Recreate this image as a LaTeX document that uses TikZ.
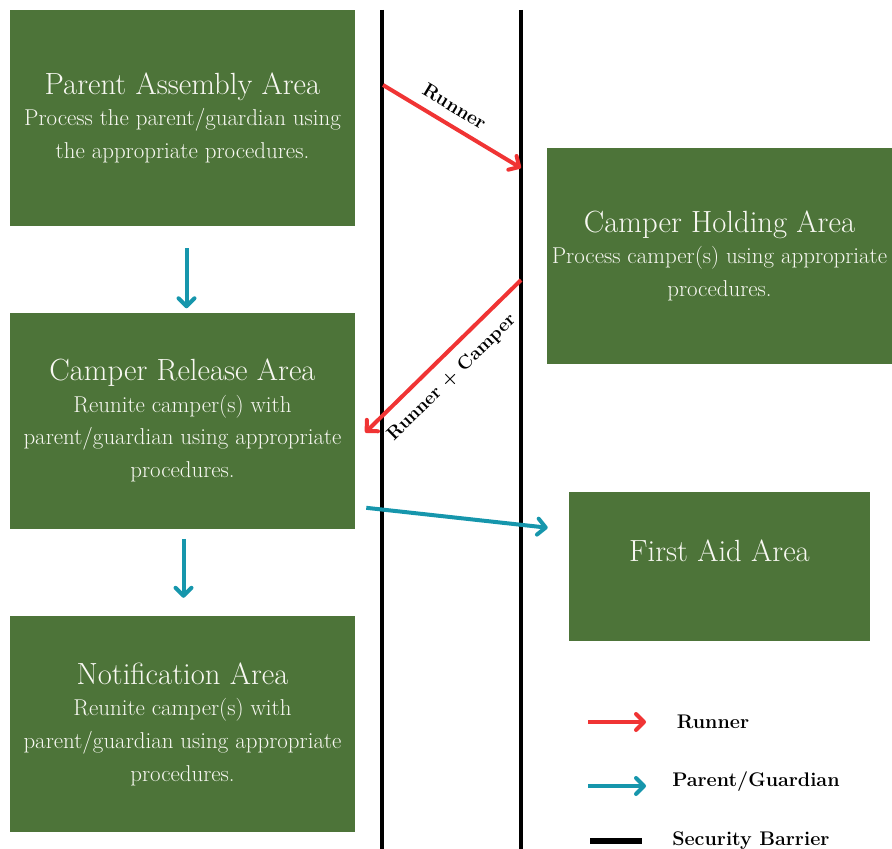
\documentclass[tikz,border=0pt]{standalone}
\usepackage{tikz}
\usetikzlibrary{positioning,arrows.meta}

\definecolor{areagreen}{RGB}{77,116,57}
\definecolor{areatext}{RGB}{248,248,242}
\definecolor{runnerred}{RGB}{240,52,52}
\definecolor{parentteal}{RGB}{22,150,172}

\newcommand{\areaname}[1]{{\fontsize{23}{26}\selectfont #1}}

\begin{document}
\begin{tikzpicture}[
    x=0.75pt, y=-0.75pt,
    areanode/.style={rectangle, fill=areagreen, text=areatext, align=center, minimum width=258.75pt, minimum height=162pt, inner sep=2pt, font=\fontsize{17.2}{24.5}\selectfont},
    runner/.style={->, >={Straight Barb[round, length=6pt, width=12pt]}, draw=runnerred, line width=3pt},
    parent/.style={->, >={Straight Barb[round, length=6pt, width=12pt]}, draw=parentteal, line width=3pt},
    barrier/.style={draw=black, line width=3pt},
    legendtext/.style={inner sep=0pt, anchor=west, font=\fontsize{14.8}{16}\selectfont\bfseries}
    ]
        \useasboundingbox (0,0) rectangle (892,849);

        %Nodes
        \node[areanode]
            (pa)    at (182.5,118)  {\areaname{Parent Assembly Area}\\[-1pt]
                                     Process the parent/guardian using\\
                                     the appropriate procedures.};
        \node[areanode]
            (cr)    [below=64.5pt of pa]   {\areaname{Camper Release Area}\\[-1pt]
                                     Reunite camper(s) with\\
                                     parent/guardian using appropriate\\
                                     procedures.};
        \node[areanode]
            (na)    [below=65.25pt of cr]  {\areaname{Notification Area}\\[-1pt]
                                     Reunite camper(s) with\\
                                     parent/guardian using appropriate\\
                                     procedures.};
        \node[areanode]
            (ch)    at (719.5,256)  {\areaname{Camper Holding Area}\\[-1pt]
                                     Process camper(s) using appropriate\\
                                     procedures.};
        \node[areanode, minimum width=225.75pt, minimum height=111.75pt]
            (fa)    at (719.5,566.5) {\raisebox{24pt}{\areaname{First Aid Area}}};

        %Barriers
        \coordinate (lbtop) at (382,10);
        \coordinate (lbbot) at (382,860);
        \coordinate (rbtop) at (521,10);
        \coordinate (rbbot) at (521,860);
        \draw[barrier] (lbtop) -- (lbbot);
        \draw[barrier] (rbtop) -- (rbbot);

        %Lines
        \coordinate (runout) at (383,85);
        \coordinate (runin)  at (521,168);
        \coordinate (camout) at (521,280);
        \draw[runner]
            (runout) -- node[sloped, above=4pt, pos=0.45, font=\fontsize{14.5}{16}\selectfont\bfseries] {Runner} (runin);
        \draw[runner]
            (camout) -- node[sloped, below=5pt, pos=0.54, font=\fontsize{14}{16}\selectfont\bfseries] {Runner + Camper} ([xshift=7.5pt, yshift=-9pt]cr.east);
        \draw[parent, shorten <=16.5pt, shorten >=3pt]
            ([xshift=3pt]pa.south) -- ([xshift=3pt]cr.north);
        \draw[parent, shorten <=7.5pt, shorten >=13.5pt]
            ([xshift=0.75pt]cr.south) -- ([xshift=0.75pt]na.north);
        \draw[parent]
            ([xshift=8.25pt, yshift=15.75pt]cr.south east) -- ([xshift=-15.75pt, yshift=-27pt]fa.north west);

        %Legend
        \coordinate (lra) at (588,722);
        \coordinate (lrb) at (646,722);
        \coordinate (lpa) at (588,786);
        \coordinate (lpb) at (646,786);
        \coordinate (lba) at (590,841);
        \coordinate (lbb) at (642,841);
        \draw[runner] (lra) -- (lrb);
        \draw[parent] (lpa) -- (lpb);
        \draw[barrier, line width=4.5pt] (lba) -- (lbb);
        \node[legendtext] (lrt) [right=23pt of lrb] {Runner};
        \node[legendtext] (lpt) [right=19.5pt of lpb, yshift=3pt] {Parent/Guardian};
        \node[legendtext] (lbt) [right=22.5pt of lbb] {Security Barrier};
\end{tikzpicture}
\end{document}
